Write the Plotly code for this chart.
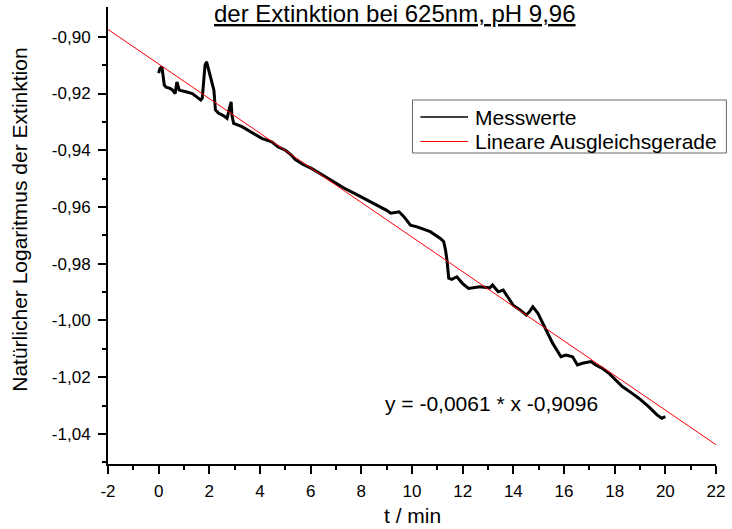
import plotly.graph_objects as go

# ---- data ----
t_min = [0.00, 0.05, 0.13, 0.18, 0.22, 0.29, 0.45, 0.55, 0.65, 0.72, 0.81, 1.07, 1.33, 1.50,
         1.66, 1.72, 1.83, 1.89, 1.98, 2.09, 2.18, 2.24, 2.37, 2.55, 2.70, 2.76, 2.86, 2.89,
         2.96, 3.29, 3.70, 4.07, 4.46, 4.72, 5.00, 5.24, 5.38, 5.70, 6.03, 6.55, 7.00, 7.33,
         7.86, 8.30, 8.64, 9.00, 9.16, 9.35, 9.49, 9.68, 9.94, 10.20, 10.72, 11.12, 11.25,
         11.32, 11.38, 11.45, 11.57, 11.77, 12.00, 12.23, 12.50, 12.68, 13.07, 13.18, 13.40,
         13.60, 13.86, 13.99, 14.25, 14.51, 14.64, 14.77, 14.97, 15.29, 15.55, 15.88, 16.08,
         16.34, 16.53, 16.73, 17.06, 17.25, 17.51, 17.77, 17.97, 18.30, 18.69, 18.95, 19.34,
         19.67, 19.86, 20.00]
ln_ext = [-0.9128, -0.9112, -0.9106, -0.9140, -0.9170, -0.9178, -0.9182, -0.9188, -0.9200,
          -0.9159, -0.9188, -0.9194, -0.9200, -0.9212, -0.9223, -0.9217, -0.9100, -0.9088,
          -0.9117, -0.9153, -0.9188, -0.9258, -0.9270, -0.9278, -0.9288, -0.9264, -0.9229,
          -0.9276, -0.9305, -0.9317, -0.9340, -0.9358, -0.9370, -0.9388, -0.9400, -0.9417,
          -0.9432, -0.9450, -0.9464, -0.9493, -0.9515, -0.9534, -0.9558, -0.9578, -0.9593,
          -0.9612, -0.9622, -0.9620, -0.9617, -0.9634, -0.9664, -0.9670, -0.9687, -0.9711,
          -0.9722, -0.9750, -0.9787, -0.9851, -0.9855, -0.9846, -0.9870, -0.9887, -0.9882,
          -0.9881, -0.9885, -0.9875, -0.9899, -0.9893, -0.9928, -0.9946, -0.9962, -0.9981,
          -0.9969, -0.9952, -0.9975, -1.0034, -1.0080, -1.0128, -1.0122, -1.0128, -1.0157,
          -1.0151, -1.0145, -1.0157, -1.0169, -1.0186, -1.0204, -1.0233, -1.0257, -1.0274,
          -1.0304, -1.0333, -1.0345, -1.0339]

fit_slope = -0.0061
fit_intercept = -0.9096
fit_x = [-2, 22]

x_ticks = [-2, 0, 2, 4, 6, 8, 10, 12, 14, 16, 18, 20, 22]
x_minor = [-1, 1, 3, 5, 7, 9, 11, 13, 15, 17, 19, 21]
y_ticks = [-0.90, -0.92, -0.94, -0.96, -0.98, -1.00, -1.02, -1.04]
y_minor = [-0.91, -0.93, -0.95, -0.97, -0.99, -1.01, -1.03, -1.05]

title_text = "der Extinktion bei 625nm, pH 9,96"
x_title = "t / min"
y_title = "Natürlicher Logaritmus der Extinktion"
legend_names = ["Messwerte", "Lineare Ausgleichsgerade"]
equation = "y = -0,0061 * x -0,9096"

# ---- layout geometry (pixels) ----
W, H = 732, 529
L, R, T, B = 108, 11, 7, 65
PW, PH = W - L - R, H - T - B


def px(xp):
    return (xp - L) / PW


def py(yp):
    return 1 - (yp - T) / PH


FONT = "Liberation Sans, Arial, sans-serif"


def fmt(v, d):
    return f"{v:.{d}f}".replace(".", ",")


fit_y = [fit_slope * x + fit_intercept for x in fit_x]

fig = go.Figure()
fig.add_trace(go.Scatter(x=t_min, y=ln_ext, mode="lines", name=legend_names[0],
                         line=dict(color="black", width=3), showlegend=False))
fig.add_trace(go.Scatter(x=fit_x, y=fit_y, mode="lines", name=legend_names[1],
                         line=dict(color="#ff0000", width=1), showlegend=False))

axis_common = dict(showline=True, linecolor="black", linewidth=2, ticks="outside",
                   ticklen=8, tickwidth=2, tickcolor="black", showgrid=False,
                   zeroline=False, tickfont=dict(family=FONT, size=17, color="black"),
                   mirror=False)

fig.update_xaxes(range=[-2, 22], tickmode="array", tickvals=x_ticks,
                 ticktext=[str(v) for v in x_ticks],
                 minor=dict(tickvals=x_minor, ticklen=4, tickwidth=2, tickcolor="black",
                            ticks="outside", showgrid=False),
                 ticklabelstandoff=3, **axis_common)
fig.update_yaxes(range=[-1.0506, -0.8895], tickmode="array", tickvals=y_ticks,
                 ticktext=[fmt(v, 2) for v in y_ticks],
                 minor=dict(tickvals=y_minor, ticklen=4, tickwidth=2, tickcolor="black",
                            ticks="outside", showgrid=False),
                 ticklabelstandoff=4, **axis_common)

annotations = [
    dict(text="<u>" + title_text + "</u>", x=px(397), y=py(13), xref="paper", yref="paper",
         xanchor="center", yanchor="middle", showarrow=False,
         font=dict(family=FONT, size=24, color="black")),
    dict(text=x_title, x=px(415), y=py(515), xref="paper", yref="paper",
         xanchor="center", yanchor="middle", showarrow=False,
         font=dict(family=FONT, size=21, color="black")),
    dict(text=y_title, x=px(18), y=py(220), xref="paper", yref="paper", textangle=-90,
         xanchor="center", yanchor="middle", showarrow=False,
         font=dict(family=FONT, size=21, color="black")),
    dict(text=equation, x=px(385), y=py(403), xref="paper", yref="paper",
         xanchor="left", yanchor="middle", showarrow=False,
         font=dict(family=FONT, size=21, color="black")),
    dict(text=legend_names[0], x=px(476), y=py(117), xref="paper", yref="paper",
         xanchor="left", yanchor="middle", showarrow=False,
         font=dict(family=FONT, size=21, color="black")),
    dict(text=legend_names[1], x=px(476), y=py(141.5), xref="paper", yref="paper",
         xanchor="left", yanchor="middle", showarrow=False,
         font=dict(family=FONT, size=21, color="black")),
]

shapes = [
    dict(type="rect", xref="paper", yref="paper", x0=px(415), x1=px(731.5),
         y0=py(153), y1=py(100), line=dict(color="#666666", width=1),
         fillcolor="white", layer="above"),
    dict(type="line", xref="paper", yref="paper", x0=px(423), x1=px(471),
         y0=py(117), y1=py(117), line=dict(color="black", width=1.5)),
    dict(type="line", xref="paper", yref="paper", x0=px(423), x1=px(471),
         y0=py(141.5), y1=py(141.5), line=dict(color="#ff0000", width=1)),
]

fig.update_layout(width=W, height=H, margin=dict(l=L, r=R, t=T, b=B),
                  paper_bgcolor="white", plot_bgcolor="white",
                  annotations=annotations, shapes=shapes, showlegend=False)

fig.write_html("out.html")
